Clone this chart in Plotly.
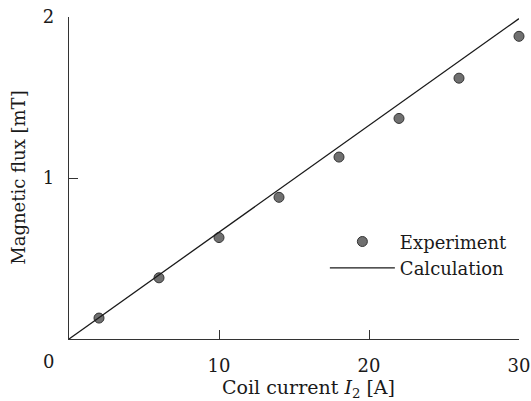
import plotly.graph_objects as go

current_exp = [2, 6, 10, 14, 18, 22, 26, 30]
flux_exp = [0.13, 0.38, 0.63, 0.88, 1.13, 1.37, 1.62, 1.88]
current_calc = [0, 30]
flux_calc = [0, 1.99]
x_ticks = [10, 20, 30]
y_ticks = [1, 2]

FONT = "DejaVu Serif"
INK = "#1a1a1a"

fig = go.Figure()
fig.add_trace(go.Scatter(
    x=current_exp, y=flux_exp, mode="markers", name="Experiment",
    marker=dict(size=10, color="#707070", line=dict(color="#333333", width=1)),
    cliponaxis=False,
))
fig.add_trace(go.Scatter(
    x=current_calc, y=flux_calc, mode="lines", name="Calculation",
    line=dict(color=INK, width=1.3),
))

fig.update_layout(
    width=531, height=401,
    margin=dict(l=69, r=12, t=17, b=62),
    paper_bgcolor="white", plot_bgcolor="white",
    font=dict(family=FONT, size=18, color=INK),
    showlegend=True,
    legend=dict(x=(325-69.3)/449.7, y=(338.7-223)/322, xanchor="left", yanchor="top",
                bgcolor="rgba(0,0,0,0)", itemwidth=65,
                font=dict(family=FONT, size=18, color=INK)),
    xaxis=dict(range=[0, 30], tickvals=x_ticks, ticks="inside", ticklen=9,
               tickcolor="#333", showline=True, linecolor="#333", linewidth=1.2,
               showgrid=False, zeroline=False, ticklabelstandoff=10,
               automargin=False),
    yaxis=dict(range=[0, 2], tickvals=y_ticks, ticks="inside", ticklen=9,
               tickcolor="#333", showline=True, linecolor="#333", linewidth=1.2,
               showgrid=False, zeroline=False, ticklabelstandoff=10,
               automargin=False),
    annotations=[
        dict(text="0", xref="paper", yref="paper", x=-20/449.7, y=-22.5/322,
             showarrow=False, xanchor="center", yanchor="middle",
             font=dict(family=FONT, size=18, color=INK)),
        dict(text="Coil current <i>I</i><sub>2</sub> [A]", xref="paper", yref="paper",
             x=(309-69.3)/449.7, y=-(388-338.7)/322, showarrow=False,
             xanchor="center", yanchor="middle",
             font=dict(family=FONT, size=19, color=INK)),
        dict(text="Magnetic flux [mT]", xref="paper", yref="paper",
             x=(18-69.3)/449.7, y=0.5, showarrow=False, textangle=-90,
             xanchor="center", yanchor="middle",
             font=dict(family=FONT, size=18, color=INK)),
    ],
)

fig.write_html("out.html")
